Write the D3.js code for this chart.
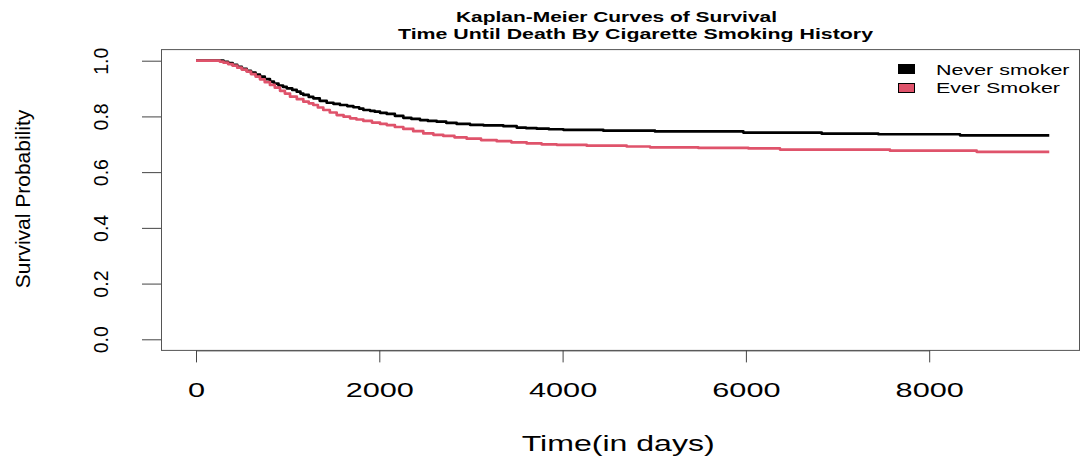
<!DOCTYPE html>
<html>
<head>
<meta charset="utf-8">
<script src="https://cdn.jsdelivr.net/npm/d3@7"></script>
<style>
  html, body { margin: 0; padding: 0; background: #fff; }
  svg { display: block; }
  text { font-family: "Liberation Sans", Arial, sans-serif; fill: #000; }
</style>
</head>
<body>
<svg id="chart" width="1081" height="463"></svg>
<script>
// ---- Data ----
const titleLines = ["Kaplan-Meier Curves of Survival", "Time Until Death By Cigarette Smoking History"];
const xLabel = "Time(in days)";
const yLabel = "Survival Probability";
const seriesNames = ["Never smoker", "Ever Smoker"];
const seriesColors = ["#000000", "#DF536B"];

const neverTimes = [0, 250, 300, 350, 400, 450, 500, 553, 600, 650, 698, 750, 807, 850, 900, 950, 990, 1050, 1099, 1140, 1171, 1230, 1280, 1350, 1426, 1500, 1571, 1650, 1717, 1780, 1826, 1899, 1950, 2008, 2081, 2170, 2262, 2350, 2444, 2530, 2626, 2730, 2844, 2990, 3135, 3353, 3499, 3600, 3717, 3850, 4008, 4444, 5008, 5972, 6827, 7445, 8336, 9310];
const neverSurv  = [1.000, 1.000, 0.996, 0.991, 0.985, 0.978, 0.971, 0.964, 0.957, 0.950, 0.943, 0.934, 0.925, 0.918, 0.911, 0.906, 0.901, 0.895, 0.889, 0.882, 0.877, 0.870, 0.865, 0.856, 0.849, 0.845, 0.841, 0.837, 0.833, 0.828, 0.823, 0.820, 0.817, 0.813, 0.809, 0.802, 0.795, 0.791, 0.787, 0.784, 0.781, 0.777, 0.773, 0.770, 0.768, 0.765, 0.760, 0.758, 0.756, 0.754, 0.752, 0.749, 0.746, 0.742, 0.738, 0.736, 0.732, 0.732];

const everTimes = [0, 210, 260, 300, 350, 400, 450, 500, 553, 600, 650, 698, 750, 807, 860, 917, 970, 1026, 1100, 1171, 1230, 1280, 1330, 1389, 1460, 1535, 1610, 1681, 1750, 1826, 1920, 2008, 2081, 2170, 2262, 2370, 2480, 2590, 2698, 2820, 2953, 3110, 3281, 3440, 3608, 3770, 3935, 4263, 4699, 4954, 5481, 6027, 6372, 7572, 8518, 9310];
const everSurv  = [1.000, 1.000, 0.997, 0.993, 0.988, 0.982, 0.975, 0.968, 0.961, 0.952, 0.943, 0.933, 0.923, 0.913, 0.903, 0.892, 0.882, 0.871, 0.862, 0.853, 0.847, 0.841, 0.832, 0.823, 0.814, 0.805, 0.799, 0.793, 0.789, 0.784, 0.778, 0.773, 0.769, 0.762, 0.755, 0.747, 0.739, 0.734, 0.730, 0.725, 0.720, 0.715, 0.711, 0.707, 0.703, 0.700, 0.698, 0.695, 0.692, 0.689, 0.687, 0.685, 0.681, 0.677, 0.673, 0.673];

const xTicks = [0, 2000, 4000, 6000, 8000];
const yTicks = [0.0, 0.2, 0.4, 0.6, 0.8, 1.0];

// ---- Layout ----
const svg = d3.select("#chart");
const box = { left: 161, right: 1079, top: 49.6, bottom: 350.4 };
const hStretch = 1.46; // horizontal text stretch seen in the reference

const x = d3.scaleLinear().domain([0, 8000]).range([196, 929.2]);
const y = d3.scaleLinear().domain([0, 1]).range([339.3, 60.7]);

function stretch(sel, factor) {
  sel.each(function () {
    const w = this.getComputedTextLength();
    d3.select(this).attr("textLength", w * factor).attr("lengthAdjust", "spacingAndGlyphs");
  });
}

// Curves
const series = [
  { name: seriesNames[0], color: seriesColors[0], pts: neverTimes.map((t, i) => [t, neverSurv[i]]) },
  { name: seriesNames[1], color: seriesColors[1], pts: everTimes.map((t, i) => [t, everSurv[i]]) }
];
const line = d3.line().x(d => x(d[0])).y(d => y(d[1])).curve(d3.curveStepAfter);
svg.append("g").selectAll("path").data(series).join("path")
  .attr("d", d => line(d.pts))
  .attr("fill", "none")
  .attr("stroke", d => d.color)
  .attr("stroke-width", 2.7)
  .attr("stroke-linejoin", "round");

// Box
svg.append("rect")
  .attr("x", box.left + 0.5).attr("y", box.top)
  .attr("width", box.right - box.left).attr("height", box.bottom - box.top)
  .attr("fill", "none").attr("stroke", "#555").attr("stroke-width", 1);

// X axis
const xAxis = svg.append("g")
  .attr("transform", `translate(0,${box.bottom})`)
  .call(d3.axisBottom(x).tickValues(xTicks).tickSize(12).tickSizeOuter(0).tickFormat(d3.format("d")));
xAxis.select(".domain").attr("stroke", "#555");
xAxis.selectAll(".tick line").attr("stroke", "#444");
xAxis.selectAll(".tick text")
  .attr("font-size", 21).attr("font-family", "Liberation Sans, Arial, sans-serif")
  .attr("fill", "#000").attr("y", 46.6).attr("dy", 0)
  .call(stretch, hStretch);

// Y axis
const yAxis = svg.append("g")
  .attr("transform", `translate(${box.left},0)`)
  .call(d3.axisLeft(y).tickValues(yTicks).tickSize(19).tickSizeOuter(0).tickFormat(d3.format(".1f")));
yAxis.select(".domain").remove();
yAxis.selectAll(".tick line").attr("stroke", "#444");
yAxis.selectAll(".tick text")
  .attr("font-size", 19.5).attr("font-family", "Liberation Sans, Arial, sans-serif")
  .attr("fill", "#000")
  .attr("text-anchor", "middle")
  .attr("transform", "rotate(-90)")
  .attr("x", 0).attr("y", -53).attr("dy", 0);

// Axis labels
svg.append("text")
  .attr("x", 521.7).attr("y", 451)
  .attr("font-size", 22)
  .attr("textLength", 193).attr("lengthAdjust", "spacingAndGlyphs")
  .text(xLabel);

svg.append("text")
  .attr("transform", "translate(30,199) rotate(-90)")
  .attr("text-anchor", "middle")
  .attr("font-size", 21)
  .text(yLabel);

// Title
const titlePos = [{ x: 456, y: 21.5, w: 321 }, { x: 398, y: 38.5, w: 475 }];
svg.append("g").selectAll("text").data(titleLines).join("text")
  .attr("x", (d, i) => titlePos[i].x)
  .attr("y", (d, i) => titlePos[i].y)
  .attr("font-size", 15.5).attr("font-weight", "bold")
  .attr("textLength", (d, i) => titlePos[i].w)
  .attr("lengthAdjust", "spacingAndGlyphs")
  .text(d => d);

// Legend
const legend = svg.append("g");
const legY = [64, 83];
legend.selectAll("rect").data(series).join("rect")
  .attr("x", 898.5).attr("y", (d, i) => legY[i] + 0.5)
  .attr("width", 16).attr("height", 9)
  .attr("fill", d => d.color).attr("stroke", "#000").attr("stroke-width", 1);
legend.selectAll("text").data(series).join("text")
  .attr("x", 936).attr("y", (d, i) => [75, 93.3][i])
  .attr("font-size", 15)
  .text(d => d.name)
  .call(stretch, 1.43);
</script>
</body>
</html>
